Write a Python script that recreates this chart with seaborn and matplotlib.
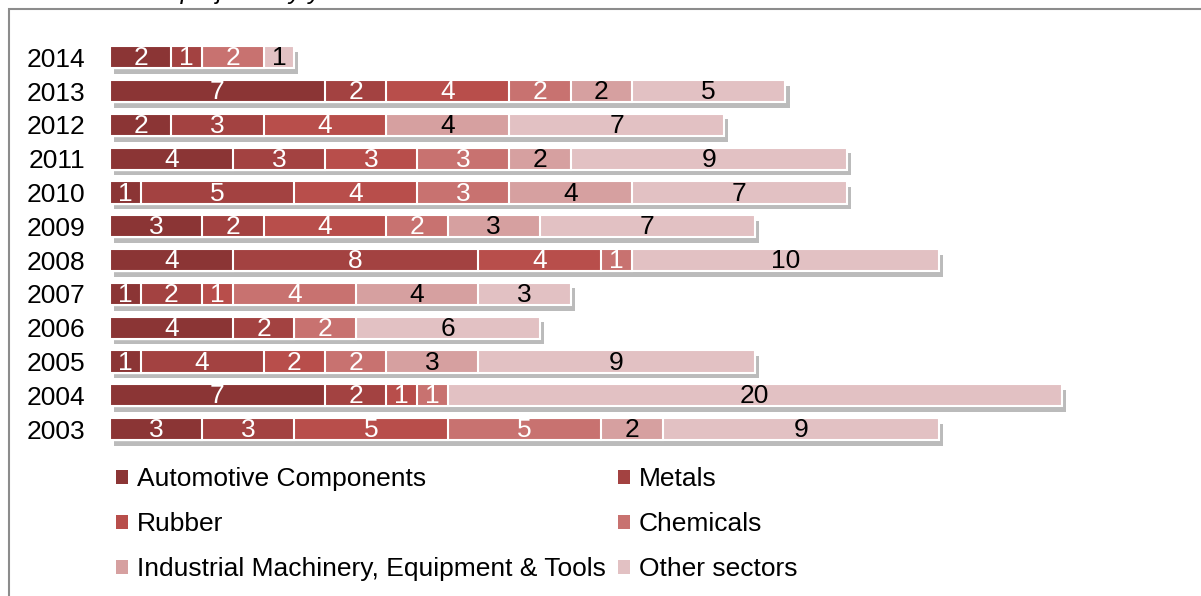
import numpy as np
import pandas as pd
import matplotlib
matplotlib.use('Agg')
import matplotlib.pyplot as plt
import matplotlib.patheffects as pe
from matplotlib.patches import Patch, Rectangle
import seaborn as sns

# data, one value per sector per year
years = ['2014', '2013', '2012', '2011', '2010', '2009',
         '2008', '2007', '2006', '2005', '2004', '2003']
sectors = ['Automotive Components', 'Metals', 'Rubber', 'Chemicals',
           'Industrial Machinery, Equipment & Tools', 'Other sectors']
automotive = [2, 7, 2, 4, 1, 3, 4, 1, 4, 1, 7, 3]
metals = [1, 2, 3, 3, 5, 2, 8, 2, 2, 4, 2, 3]
rubber = [0, 4, 4, 3, 4, 4, 4, 1, 0, 2, 1, 5]
chemicals = [2, 2, 0, 3, 3, 2, 1, 4, 2, 2, 1, 5]
industrial = [0, 2, 4, 2, 4, 3, 0, 4, 0, 3, 0, 2]
other = [1, 5, 7, 9, 7, 7, 10, 3, 6, 9, 20, 9]
colors = ['#8B3535', '#A34241', '#B84E4B', '#C87270', '#D6A0A0', '#E2C1C3']
label_colors = ['white', 'white', 'white', 'white', 'black', 'black']

values = [automotive, metals, rubber, chemicals, industrial, other]
df = pd.DataFrame({s: v for s, v in zip(sectors, values)}, index=years)
cum = df.cumsum(axis=1)

sns.set_style('white')
plt.rcParams['font.family'] = ['Liberation Sans', 'DejaVu Sans']
plt.rcParams['text.color'] = 'black'
plt.rcParams['ytick.color'] = 'black'
FS = 19

fig = plt.figure(figsize=(12.01, 5.96), dpi=100)
ax = fig.add_axes([110 / 1201, 1 - 446 / 596, 32 * 30.7 / 1201, 405.6 / 596])

# stacked bars: draw running totals longest first
for k in range(len(sectors) - 1, -1, -1):
    plot_df = pd.DataFrame({'year': years, 'total': cum[sectors[k]].values})
    sns.barplot(data=plot_df, x='total', y='year', order=years, orient='h',
                color=colors[k], saturation=1, width=0.66, ax=ax,
                edgecolor='white', linewidth=1.5)
    if k == len(sectors) - 1:
        for bar in ax.patches:
            bar.set_path_effects([pe.SimplePatchShadow(offset=(3, -4), shadow_rgbFace='#555555', alpha=0.4),
                                  pe.Normal()])

for k, s in enumerate(sectors):
    for i, y in enumerate(years):
        v = df.loc[y, s]
        if v > 0:
            ax.text(cum.loc[y, s] - v / 2, i + 0.03, str(v), ha='center', va='center',
                    fontsize=FS, color=label_colors[k])

ax.set_xlim(0, 32)
ax.set_ylim(11.5, -0.5)
ax.set_xlabel('')
ax.set_ylabel('')
ax.set_xticks([])
ax.tick_params(axis='y', length=0, pad=18, labelsize=FS, labelcolor='black')
sns.despine(ax=ax, left=True, bottom=True)

# legend laid out row by row like the original
order = [0, 2, 4, 1, 3, 5]
handles = [Patch(facecolor=colors[k], edgecolor='none') for k in order]
labels = [sectors[k] for k in order]
fig.legend(handles, labels, ncol=2, frameon=False, fontsize=FS,
           loc='upper left', bbox_to_anchor=(116 / 1201, 1 - 467 / 596),
           borderaxespad=0, borderpad=0,
           handlelength=0.45, handleheight=0.45, handletextpad=0.35,
           columnspacing=0.45, labelspacing=0.8, labelcolor='black')

# chart frame and cut-off title
fig.patches.append(Rectangle((9 / 1201, -0.1), 1.1, 1 - 9 / 596 + 0.1,
                             transform=fig.transFigure, fill=False,
                             edgecolor='#8c8c8c', linewidth=1.5))
fig.text(357 / 1201, 1 + 1 / 596, 'Number of projects by year', ha='right',
         va='baseline', fontsize=18, style='italic')

fig.savefig('out.png', dpi=100)
